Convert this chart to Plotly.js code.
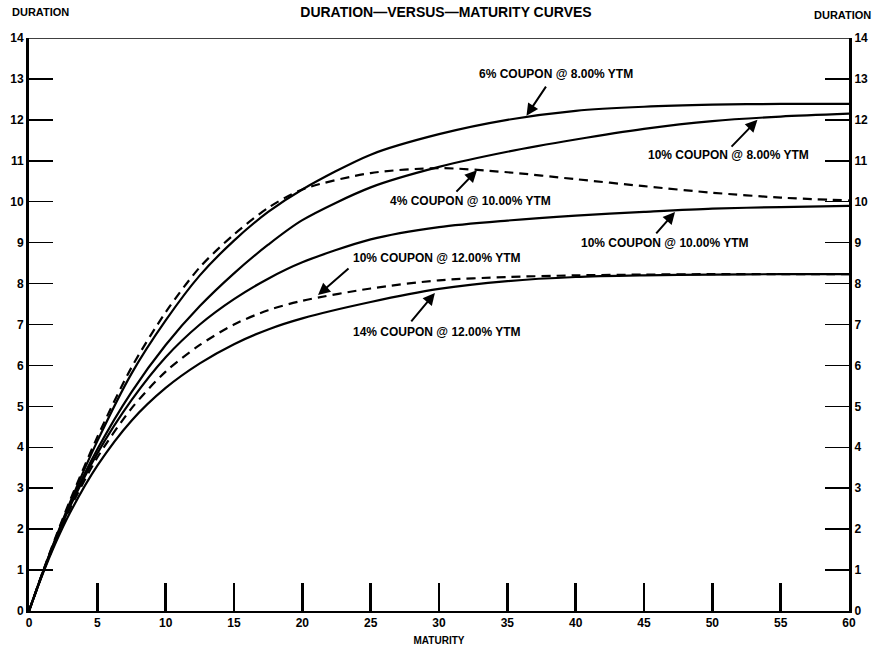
<!DOCTYPE html>
<html>
<head>
<meta charset="utf-8">
<script src="https://cdn.plot.ly/plotly-3.0.1.min.js"></script>
<style>html,body{margin:0;padding:0;background:#fff;}#chart{width:875px;height:655px;}</style>
</head>
<body>
<div id="chart"></div>
<script>
// Maturity in years (x)
const maturity = [0, 1, 2, 3, 5, 7.5, 10, 12.5, 15, 17.5, 20, 25, 30, 35, 40, 45, 50, 55, 60];
// Duration values
const dur6c8y   = [0, 0.94, 1.82, 2.65, 4.15, 5.8, 7.1, 8.2, 9.05, 9.75, 10.3, 11.15, 11.65, 12.0, 12.22, 12.32, 12.37, 12.39, 12.39];
const dur10c8y  = [0, 0.93, 1.8, 2.6, 3.95, 5.35, 6.5, 7.45, 8.25, 8.95, 9.55, 10.35, 10.85, 11.22, 11.52, 11.78, 11.97, 12.08, 12.15];
const dur4c10y  = [0, 0.95, 1.85, 2.7, 4.25, 5.95, 7.3, 8.4, 9.2, 9.85, 10.3, 10.7, 10.82, 10.72, 10.55, 10.38, 10.22, 10.1, 10.03];
const dur10c10y = [0, 0.93, 1.78, 2.55, 3.85, 5.15, 6.2, 7.0, 7.62, 8.12, 8.52, 9.08, 9.38, 9.54, 9.66, 9.75, 9.83, 9.87, 9.9];
const dur10c12y = [0, 0.92, 1.75, 2.5, 3.75, 4.95, 5.85, 6.5, 7.0, 7.35, 7.58, 7.88, 8.08, 8.16, 8.2, 8.22, 8.23, 8.23, 8.23];
const dur14c12y = [0, 0.9, 1.7, 2.4, 3.55, 4.65, 5.45, 6.05, 6.52, 6.88, 7.15, 7.55, 7.87, 8.06, 8.16, 8.2, 8.22, 8.23, 8.23];

const xTicks = [0, 5, 10, 15, 20, 25, 30, 35, 40, 45, 50, 55, 60];
const yTicks = [0, 1, 2, 3, 4, 5, 6, 7, 8, 9, 10, 11, 12, 13, 14];

// Curve labels: text, text position, arrow tail, arrow tip
const labelTexts = ["6% COUPON @ 8.00% YTM", "10% COUPON @ 8.00% YTM", "4% COUPON @ 10.00% YTM",
                    "10% COUPON @ 10.00% YTM", "10% COUPON @ 12.00% YTM", "14% COUPON @ 12.00% YTM"];
const labelX = [38.56, 51.15, 32.27, 46.54, 29.85, 29.85];
const labelY = [13.12, 11.14, 10.02, 8.99, 8.62, 6.82];
const tailX = [37.9, 51.3, 31.17, 45.8, 23.49, 27.88];
const tailY = [12.85, 11.31, 10.21, 9.19, 8.4, 7.04];
const tipX  = [36.4, 53.3, 32.78, 47.27, 21.15, 29.7];
const tipY  = [12.1, 12.0, 10.77, 9.75, 7.72, 7.77];

const F = "Liberation Sans, Arial, Helvetica, sans-serif";
const solid = {color: '#000', width: 2.2, shape: 'spline', smoothing: 0.8};
const dashed = {color: '#000', width: 2.2, shape: 'spline', smoothing: 0.8, dash: '9px,6px'};

const traces = [
  {x: maturity, y: dur6c8y, mode: 'lines', line: solid, name: '6% @ 8%'},
  {x: maturity, y: dur10c8y, mode: 'lines', line: solid, name: '10% @ 8%'},
  {x: maturity, y: dur4c10y, mode: 'lines', line: dashed, name: '4% @ 10%'},
  {x: maturity, y: dur10c10y, mode: 'lines', line: solid, name: '10% @ 10%'},
  {x: maturity, y: dur10c12y, mode: 'lines', line: dashed, name: '10% @ 12%'},
  {x: maturity, y: dur14c12y, mode: 'lines', line: solid, name: '14% @ 12%'},
  {x: [0, 60], y: [0, 14], mode: 'markers', marker: {opacity: 0}, yaxis: 'y2', hoverinfo: 'skip'}
];

const annotations = [];
for (let i = 0; i < labelTexts.length; i++) {
  annotations.push({x: labelX[i], y: labelY[i], xref: 'x', yref: 'y', text: labelTexts[i],
    showarrow: false, font: {family: F, size: 12, weight: 700, color: '#000'}});
  annotations.push({x: tipX[i], y: tipY[i], ax: tailX[i], ay: tailY[i], xref: 'x', yref: 'y',
    axref: 'x', ayref: 'y', text: '', showarrow: true, arrowhead: 2, arrowsize: 1.2,
    arrowwidth: 2, arrowcolor: '#000', standoff: 0});
}
annotations.push({x: -19/820, y: (611 - 12)/573, xref: 'paper', yref: 'paper', xanchor: 'left', yanchor: 'middle',
  text: 'DURATION', showarrow: false, font: {family: F, size: 11, weight: 700, color: '#000'}});
annotations.push({x: (873 - 29)/820, y: (611 - 15)/573, xref: 'paper', yref: 'paper', xanchor: 'right', yanchor: 'middle',
  text: 'DURATION', showarrow: false, font: {family: F, size: 11, weight: 700, color: '#000'}});

const tickFont = {family: F, size: 12, weight: 700, color: '#000'};
const layout = {
  width: 875, height: 655,
  margin: {l: 29, r: 26, t: 38, b: 44},
  paper_bgcolor: '#fff', plot_bgcolor: '#fff',
  showlegend: false,
  title: {text: 'DURATION—VERSUS—MATURITY CURVES', x: 446/875, xanchor: 'center', y: 1 - 12/655, yanchor: 'middle',
    font: {family: F, size: 14, weight: 700, color: '#000'}},
  xaxis: {range: [0, 60], tickvals: xTicks, ticktext: xTicks.map(String), ticks: 'inside', ticklen: 28, tickwidth: 2.5,
    tickcolor: '#000', showgrid: false, zeroline: false, showline: true, linecolor: '#000', linewidth: 2,
    tickfont: tickFont,
    title: {text: 'MATURITY', standoff: 8, font: {family: F, size: 10, weight: 700, color: '#000'}}},
  yaxis: {range: [0, 14], tickvals: yTicks, ticks: 'inside', ticklen: 24, tickwidth: 1.5, tickcolor: '#000',
    showgrid: false, zeroline: false, showline: true, linecolor: '#000', linewidth: 3,
    tickfont: tickFont},
  yaxis2: {range: [0, 14], overlaying: 'y', side: 'right', tickvals: yTicks, ticks: 'inside', ticklen: 24,
    tickwidth: 1.5, tickcolor: '#000', showgrid: false, zeroline: false, showline: true, linecolor: '#000',
    linewidth: 3, tickfont: tickFont},
  shapes: [{type: 'line', xref: 'x', yref: 'y', x0: 0, x1: 60, y0: 14, y1: 14, line: {color: '#000', width: 1.5}}],
  annotations: annotations
};

Plotly.newPlot('chart', traces, layout, {staticPlot: true});
</script>
</body>
</html>
